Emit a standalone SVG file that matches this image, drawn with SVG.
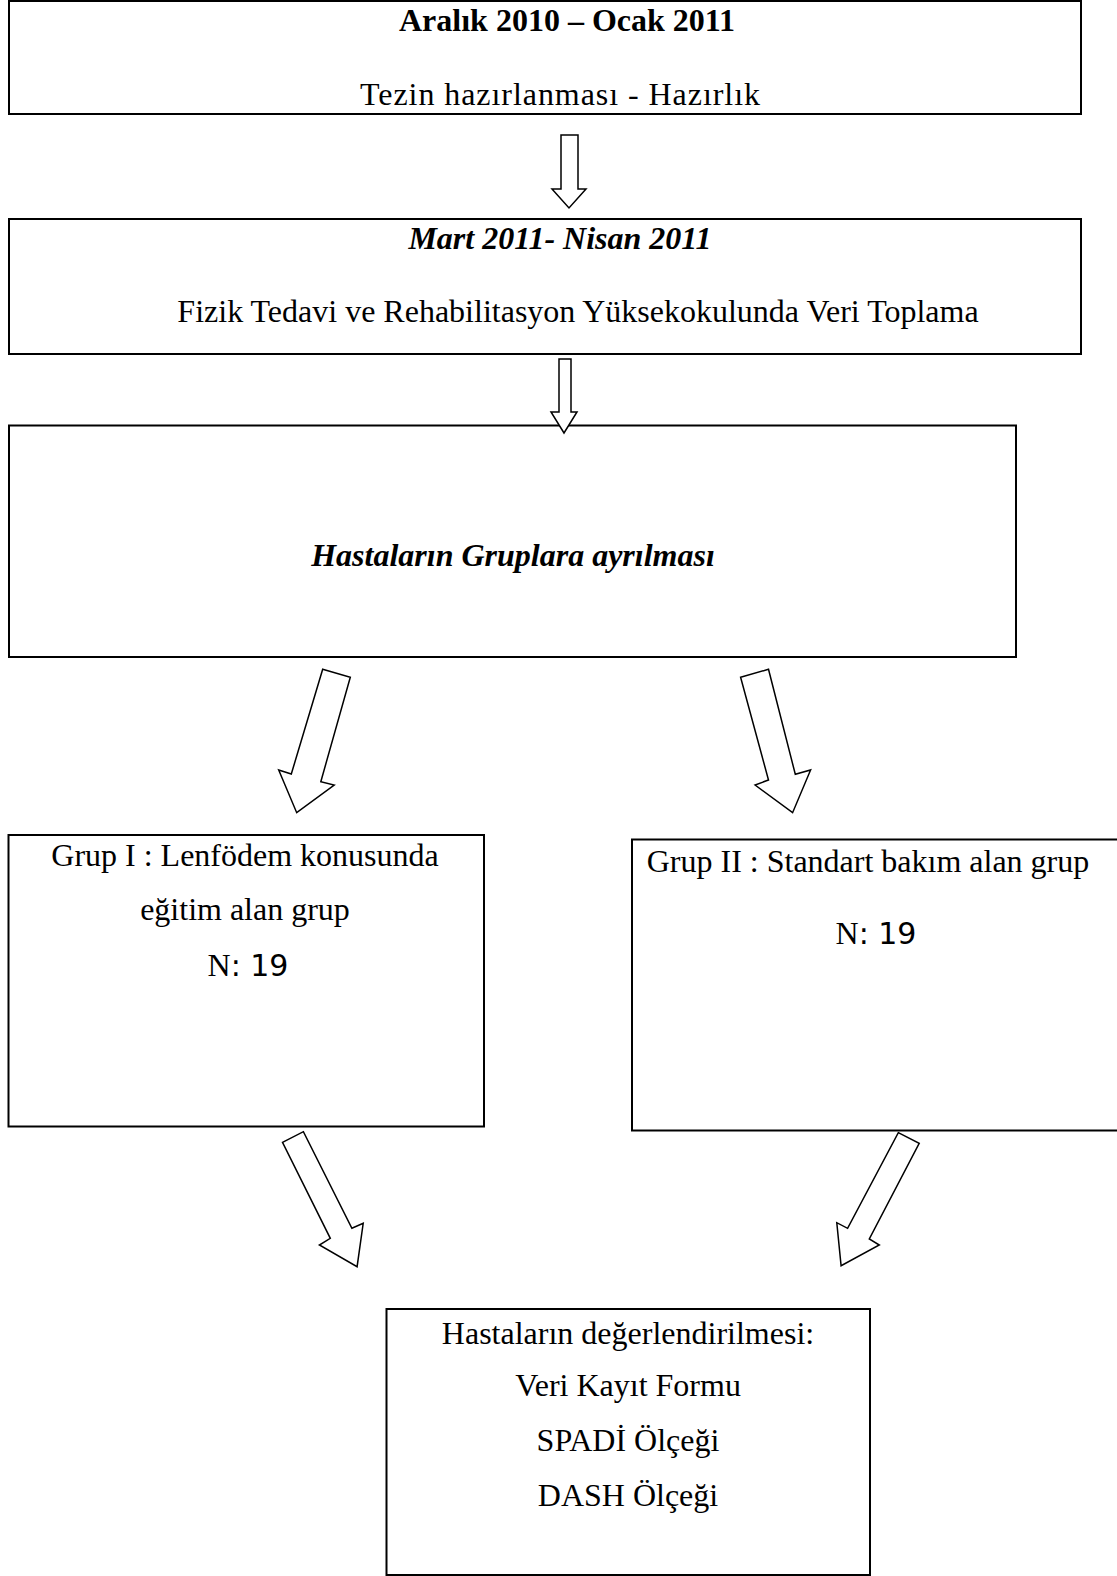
<svg xmlns="http://www.w3.org/2000/svg" width="1117" height="1576" viewBox="0 0 1117 1576">
<style>
.box{fill:#fff;stroke:#000;stroke-width:2}
.arr{fill:#fff;stroke:#000;stroke-width:1.5;stroke-linejoin:miter}
text{font-family:"Liberation Serif","Times New Roman",serif;font-size:32px;fill:#000;text-anchor:middle}
.b{font-weight:bold}
.bi{font-weight:bold;font-style:italic}
.sans{font-family:"DejaVu Sans",Verdana,sans-serif;font-size:30px}
</style>
<rect width="1117" height="1576" fill="#fff"/>
<g id="n1">
<rect class="box" x="9" y="1" width="1072" height="113"/>
<text class="b" x="567" y="31">Aralık 2010 – Ocak 2011</text>
<text x="560" y="105" textLength="400" lengthAdjust="spacing">Tezin hazırlanması - Hazırlık</text>
</g>
<g id="n2">
<rect class="box" x="9" y="219" width="1072" height="135"/>
<text class="bi" x="560" y="249">Mart 2011- Nisan 2011</text>
<text x="578" y="322">Fizik Tedavi ve Rehabilitasyon Yüksekokulunda Veri Toplama</text>
</g>
<g id="n3">
<rect class="box" x="9" y="425.5" width="1007" height="231.5"/>
<text class="bi" x="513" y="566">Hastaların Gruplara ayrılması</text>
</g>
<g id="n4">
<rect class="box" x="8.5" y="835" width="475.5" height="291.5"/>
<text x="245" y="866">Grup I : Lenfödem konusunda</text>
<text x="245" y="920">eğitim alan grup</text>
<text x="248" y="976">N<tspan class="sans">: 19</tspan></text>
</g>
<g id="n5">
<rect class="box" x="632" y="839.5" width="490" height="291"/>
<text x="868" y="872">Grup II : Standart bakım alan grup</text>
<text x="876" y="944">N<tspan class="sans">: 19</tspan></text>
</g>
<g id="n6">
<rect class="box" x="386.5" y="1309" width="483.5" height="266"/>
<text x="628" y="1344">Hastaların değerlendirilmesi:</text>
<text x="628" y="1396">Veri Kayıt Formu</text>
<text x="628" y="1451">SPADİ Ölçeği</text>
<text x="628" y="1506">DASH Ölçeği</text>
</g>
<g id="connectors">
<polygon class="arr" points="561,135 578,135 578,189 586,189 569,208 552,189 561,189"/>
<polygon class="arr" points="559,359 571,359 571,412 577,412 564,433 551,412 559,412"/>
<polygon class="arr" points="322.7,669.3 350.3,677.3 320.8,781.7 334.2,785 296.7,812.7 278.7,770 291.3,774"/>
<polygon class="arr" points="740.6,677.3 768.5,669.3 795.3,774.3 810.6,770 792.6,812.7 755.1,785 768.5,780"/>
<polygon class="arr" points="282.5,1142.3 303.4,1131.7 351.9,1228.3 363.2,1223.3 357.1,1266.7 319.4,1245 330.3,1238.3"/>
<polygon class="arr" points="898.3,1132.7 919.2,1143.3 869.3,1239 879.3,1245 841.1,1265.7 836.8,1222.7 847.6,1228.3"/>
</g>
</svg>
